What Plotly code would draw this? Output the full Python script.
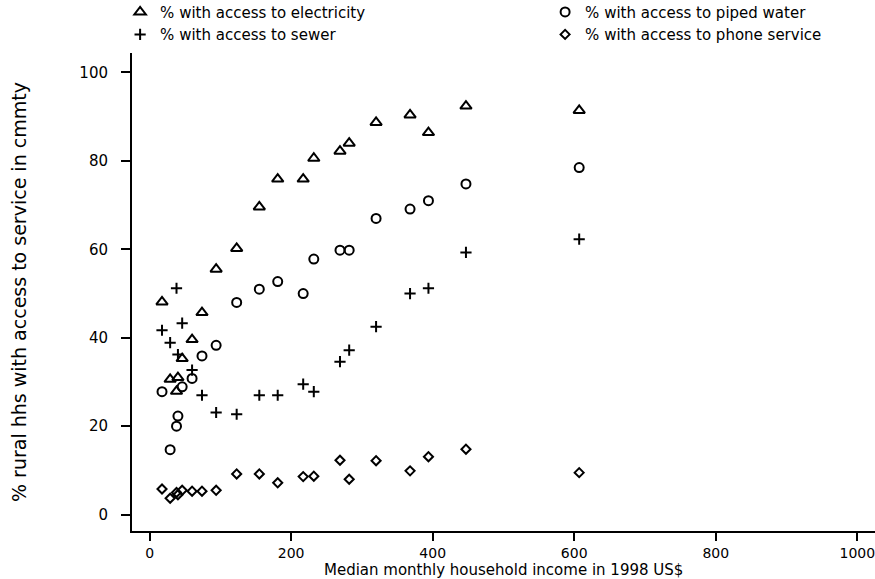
import plotly.graph_objects as go

# Median monthly household income (1998 US$) for each community group
income = [17.5, 29, 38, 40, 46, 60, 74, 94, 123, 155, 181, 217, 232, 269, 282, 320, 368, 394, 447, 607]

# Share of rural households with access to each service (%)
electricity = [48.1, 30.6, 27.9, 31.0, 35.3, 39.6, 45.7, 55.5, 60.2, 69.6, 75.9, 75.9, 80.6, 82.2, 84.0, 88.7, 90.4, 86.4, 92.4, 91.4]
piped_water = [27.8, 14.7, 20.0, 22.3, 28.9, 30.8, 35.9, 38.3, 48.0, 51.0, 52.7, 50.0, 57.8, 59.8, 59.8, 67.0, 69.1, 71.0, 74.8, 78.5]
sewer = [41.7, 38.9, 51.2, 36.2, 43.3, 32.7, 27.0, 23.1, 22.7, 27.0, 27.0, 29.5, 27.8, 34.6, 37.2, 42.5, 50.0, 51.2, 59.3, 62.3]
phone = [5.8, 3.7, 5.0, 4.5, 5.5, 5.3, 5.3, 5.5, 9.2, 9.2, 7.2, 8.6, 8.7, 12.3, 8.0, 12.2, 9.9, 13.1, 14.8, 9.5]

series = [
    ("% with access to electricity", electricity, "triangle-up-open", 10),
    ("% with access to piped water", piped_water, "circle-open", 9),
    ("% with access to sewer", sewer, "cross-thin-open", 8),
    ("% with access to phone service", phone, "diamond-open", 7),
]

FONT = "DejaVu Sans"

fig = go.Figure()
for name, vals, sym, size in series:
    fig.add_trace(go.Scatter(
        x=income, y=vals, mode="markers", name=name,
        marker=dict(symbol=sym, size=size, color="black",
                    line=dict(color="black", width=2)),
    ))

fig.update_layout(
    width=875, height=579,
    margin=dict(l=132, r=0, t=53, b=48, autoexpand=False),
    paper_bgcolor="white", plot_bgcolor="white",
    font=dict(family=FONT, color="black", size=15),
    showlegend=True,
    legend=dict(
        orientation="h", x=-0.016, xanchor="left", y=1.12, yanchor="top",
        entrywidth=380, entrywidthmode="pixels",
        font=dict(family=FONT, size=15, color="black"),
        itemwidth=30, tracegroupgap=0, bgcolor="rgba(0,0,0,0)",
    ),
    xaxis=dict(
        range=[-24.9, 1025], tickvals=[0, 200, 400, 600, 800, 1000],
        showgrid=False, zeroline=False, showline=True, linecolor="black", linewidth=2,
        ticks="outside", ticklen=8, tickwidth=2, tickcolor="black",
        tickfont=dict(family=FONT, size=14), ticklabeloverflow="allow", fixedrange=True,
    ),
    yaxis=dict(
        range=[-3.7, 104.4], tickvals=[0, 20, 40, 60, 80, 100],
        showgrid=False, zeroline=False, showline=True, linecolor="black", linewidth=2,
        ticks="outside", ticklen=9, tickwidth=2, tickcolor="black",
        tickfont=dict(family=FONT, size=15), ticklabelstandoff=10, fixedrange=True,
    ),
    annotations=[
        dict(text="Median monthly household income in 1998 US$", xref="paper", yref="paper",
             x=0.5, y=0, xanchor="center", yanchor="middle", yshift=-39, showarrow=False,
             font=dict(family=FONT, size=15)),
        dict(text="% rural hhs with access to service in cmmty", xref="paper", yref="paper",
             x=0, y=0.5, xanchor="center", yanchor="middle", xshift=-113, textangle=-90,
             showarrow=False, font=dict(family=FONT, size=19)),
    ],
)

fig.write_html("out.html")
